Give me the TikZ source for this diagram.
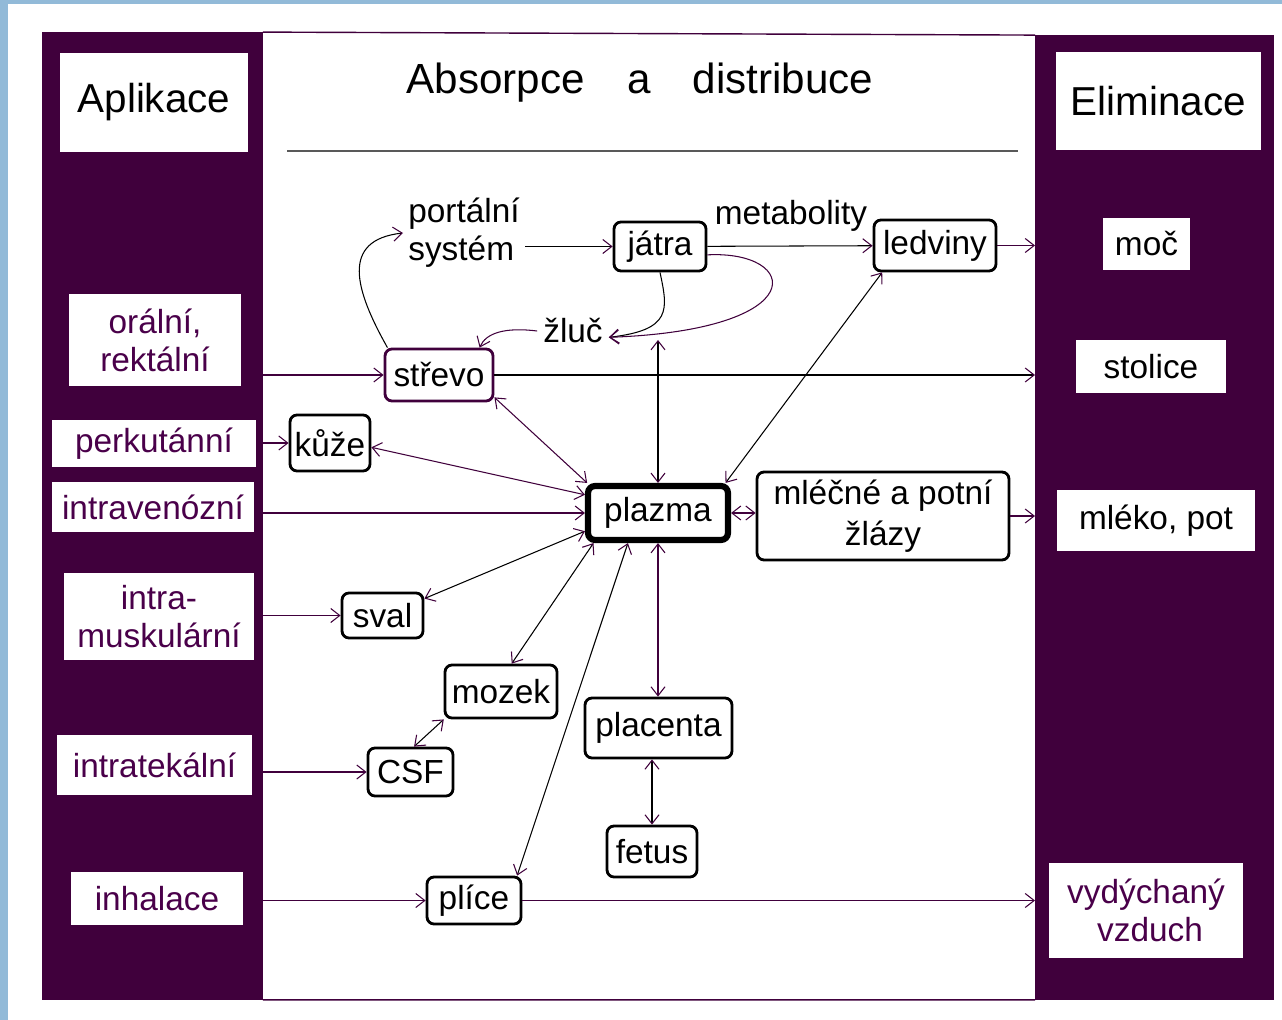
\documentclass[tikz,border=0pt]{standalone}
\usepackage{fontspec}
\setmainfont{Liberation Sans}
\usetikzlibrary{arrows.meta}
\definecolor{plum}{RGB}{64,0,60}
\definecolor{plumtext}{RGB}{74,0,74}
\definecolor{edgeblue}{RGB}{146,186,216}
\tikzset{barb/.tip={Straight Barb[length=1.8mm,width=2.8mm,color=plum]}}

\begin{document}
\begin{tikzpicture}[x=0.02cm,y=-0.02cm,
    organ/.style={draw, rectangle, rounded corners=4pt, line width=1.6pt, inner sep=0pt, font=\fontsize{19}{22}\selectfont},
    route/.style={fill=white, inner sep=0pt, text=plumtext, align=center, font=\fontsize{19}{21.5}\selectfont},
    sink/.style={route, text=black},
    header/.style={fill=white, inner sep=0pt, font=\fontsize{23}{26}\selectfont},
    column/.style={fill=plum, inner sep=0pt, outer sep=0pt},
    tip/.style={line width=0.6pt, -barb},
    twoway/.style={line width=0.6pt, barb-barb}]

    % Background and margins
    \fill[edgeblue] (0,0) rectangle (1282,1020);
    \fill[white] (8,4) rectangle (1282,1020);
    \useasboundingbox (0,0) rectangle (1282,1020);

    % Draw the two dark columns and the frame between them
    \node[column, minimum width=4.42cm, minimum height=19.36cm] (aplcol) at (152.5,516) {};
    \node[column, minimum width=4.78cm, minimum height=19.3cm] (elimcol) at (1154.5,517.5) {};
    \draw[plum, line width=0.8pt] (aplcol.north east) -- (elimcol.north west);
    \draw[plum, line width=0.8pt] (aplcol.south east) -- (elimcol.south west);

    % Routes of application
    \node[header, minimum width=3.76cm, minimum height=1.98cm] (aplikace) at (154,102.5) {Aplikace};
    \node[route, minimum width=3.44cm, minimum height=1.84cm] (oralni) at (155,340) {orální,\\rektální};
    \node[route, minimum width=4.08cm, minimum height=0.94cm] (perkut) at (154,443.5) {perkutánní};
    \node[route, minimum width=4.04cm, minimum height=1.0cm] (intraven) at (153,507) {intravenózní};
    \node[route, minimum width=3.8cm, minimum height=1.74cm] (intramusk) at (159,616.5) {intra-\\muskulární};
    \node[route, minimum width=3.9cm, minimum height=1.2cm] (intratek) at (154.5,765) {intratekální};
    \node[route, minimum width=3.44cm, minimum height=1.06cm] (inhal) at (157,898.5) {inhalace};

    % Routes of elimination
    \node[header, minimum width=4.1cm, minimum height=1.96cm] (elim) at (1158.5,101) {Eliminace};
    \node[sink, minimum width=1.74cm, minimum height=1.04cm] (moc) at (1146.5,244) {moč};
    \node[sink, minimum width=3.0cm, minimum height=1.06cm] (stolice) at (1151,366.5) {stolice};
    \node[sink, minimum width=3.96cm, minimum height=1.22cm] (mleko) at (1156,520.5) {mléko, pot};
    \node[route, align=left, minimum width=3.88cm, minimum height=1.9cm] (vzduch) at (1146,910.5) {vydýchaný\\\hspace{0.9em}vzduch};

    % Title
    \node[font=\fontsize{24}{28}\selectfont] (title) at (640,83) {Absorpce\hspace{1em}a\hspace{1em}distribuce};
    \draw[black!65, line width=0.8pt] (287,151) -- (1018,151);

    % Organs
    \node[organ, minimum width=1.84cm, minimum height=0.98cm] (jatra) at (660,246.5) {játra};
    \node[organ, minimum width=2.44cm, minimum height=1.02cm] (ledviny) at (935,245.5) {ledviny};
    \node[organ, draw=plum, minimum width=2.16cm, minimum height=1.04cm] (stred) at (439,375) {střevo};
    \node[organ, minimum width=1.6cm, minimum height=1.12cm] (kuze) at (330,443) {kůže};
    \node[organ, line width=3.5pt, minimum width=2.8cm, minimum height=1.08cm] (plazma) at (658,513) {plazma};
    \node[organ, align=center, font=\fontsize{19}{23}\selectfont, minimum width=5.04cm, minimum height=1.76cm] (mlecne) at (883,516) {mléčné a potní\\žlázy};
    \node[organ, minimum width=1.62cm, minimum height=0.9cm] (sval) at (382.5,615.5) {sval};
    \node[organ, minimum width=2.24cm, minimum height=1.06cm] (mozek) at (501,691.5) {mozek};
    \node[organ, minimum width=2.94cm, minimum height=1.2cm] (placenta) at (658.5,728) {placenta};
    \node[organ, minimum width=1.7cm, minimum height=0.96cm] (csf) at (410.5,772) {CSF};
    \node[organ, minimum width=1.8cm, minimum height=1.02cm] (fetus) at (652,851.5) {fetus};
    \node[organ, minimum width=1.88cm, minimum height=0.94cm] (plice) at (474,900.5) {plíce};

    % Free labels
    \node[anchor=west, align=left, inner sep=0.1cm, font=\fontsize{19}{21.5}\selectfont] (portal) at (403,233) {portální\\systém};
    \node[font=\fontsize{19}{22}\selectfont] (metab) at (791,216) {metabolity};
    \node[font=\fontsize{19}{22}\selectfont] (zluc) at (573,331) {žluč};
    \coordinate (zlucjoin) at (656,340);

    % Feeds from the application column
    \foreach \t in {stred,kuze,plazma,sval,csf,plice} {
        \draw[tip, plum] (aplcol.east |- \t) -- (\t);
    }

    % Outputs into the elimination column
    \foreach \s/\c in {ledviny/plum, stred/black, mlecne/plum, plice/plum} {
        \draw[tip, \c] (\s) -- (\s -| elimcol.west);
    }

    % Exchange between the organs and the plasma
    \foreach \o/\a/\b/\c in {ledviny/207/24/black, stred/-22/157/plum, kuze/-6/166/plum, sval/22/194/black, mozek/69/205/black, plice/30/225/black} {
        \draw[twoway, \c] (\o.\a) -- (plazma.\b);
    }
    \draw[twoway, plum] (plazma) -- (plazma -| mlecne.west);
    \draw[twoway, plum] (plazma.south) -- (plazma.south |- placenta.north);
    \draw[twoway] (fetus.north) -- (fetus.north |- placenta.south);
    \draw[twoway] (mozek.206) -- (csf.82);
    \draw[twoway] (plazma.north) -- (plazma.north |- zlucjoin);

    % Portal circulation, metabolites and bile
    \draw[tip] (portal.east |- jatra) -- (jatra);
    \draw[tip] (jatra) -- (ledviny);
    \draw[tip] (stred.152) .. controls (355,290) and (340,240) .. (portal.west);
    \draw[tip] (jatra.south) .. controls (668,310) and (672,330) .. (zluc.-10);
    \draw[tip, plum] (jatra.-10) .. controls (800,250) and (815,330) .. (zluc.-10);
    \draw[tip, plum] (zluc.west) .. controls (505,327) and (486,333) .. (stred.34);
\end{tikzpicture}
\end{document}
